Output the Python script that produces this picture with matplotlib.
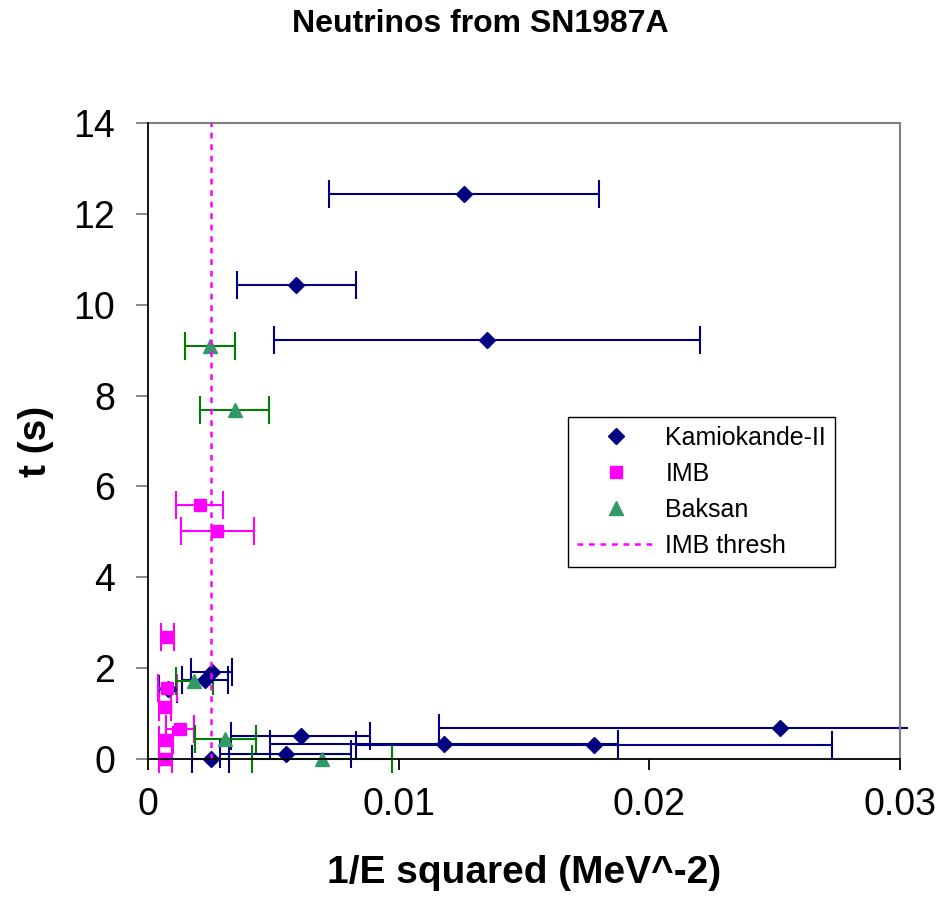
import numpy as np
import matplotlib
matplotlib.use("Agg")
import matplotlib.pyplot as plt
from matplotlib.lines import Line2D
from matplotlib.patches import Rectangle

plt.rcParams["font.family"] = ["Liberation Sans", "DejaVu Sans"]

# Kamiokande-II events: 1/E^2 (MeV^-2), error, time (s)
kam_x = [0.00250, 0.00549, 0.01778, 0.01181, 0.00610, 0.02520,
         0.00080, 0.00227, 0.00255, 0.01352, 0.00592, 0.01262]
kam_err = [0.00073, 0.00260, 0.00950, 0.00693, 0.00277, 0.01360,
           0.00036, 0.00091, 0.00082, 0.00850, 0.00237, 0.00539]
kam_t = [0.0, 0.107, 0.303, 0.324, 0.507, 0.686,
         1.541, 1.728, 1.915, 9.219, 10.433, 12.439]

# IMB events
imb_x = [0.00069, 0.00073, 0.00128, 0.00066, 0.00077, 0.00077, 0.00277, 0.00207]
imb_err = [0.00026, 0.00028, 0.00055, 0.00024, 0.00039, 0.00026, 0.00146, 0.00094]
imb_t = [0.0, 0.412, 0.650, 1.141, 1.562, 2.684, 5.010, 5.582]

# Baksan events
bak_x = [0.00694, 0.00309, 0.00184, 0.00346, 0.00248]
bak_err = [0.00278, 0.00123, 0.00074, 0.00138, 0.00099]
bak_t = [0.0, 0.435, 1.710, 7.687, 9.099]

imb_thresh = 0.0025

x_ticks = [0, 0.01, 0.02, 0.03]
x_tick_labels = ["0", "0.01", "0.02", "0.03"]
y_ticks = [0, 2, 4, 6, 8, 10, 12, 14]

fig = plt.figure(figsize=(9.45, 8.98), dpi=100)
ax = fig.add_axes([148 / 945, 1 - 759 / 898, 752 / 945, 636 / 898])

# clip a bit outside the plot area so marks on the axes are not cut in half
clip = Rectangle((-0.05, -0.05), 1.061, 1.1, transform=ax.transAxes,
                 facecolor="none", edgecolor="none")
ax.add_patch(clip)

series = [
    (kam_x, kam_t, kam_err, "D", 8.5, "#000080", "#000080", "Kamiokande-II"),
    (imb_x, imb_t, imb_err, "s", 8.5, "#FF00FF", "#FF00FF", "IMB"),
    (bak_x, bak_t, bak_err, "^", 10, "#339966", "#008000", "Baksan"),
]
handles = []
for xs, ts, errs, mk, ms, mc, ec, name in series:
    eb = ax.errorbar(xs, ts, xerr=errs, fmt=mk, color=mc, ecolor=ec,
                     markersize=ms, linestyle="none", elinewidth=1.5,
                     capsize=10, capthick=1.5)
    for art in eb.get_children():
        art.set_clip_path(clip)
    handles.append(Line2D([], [], marker=mk, color=mc, markersize=ms,
                          linestyle="none", label=name))

thr = ax.axvline(imb_thresh, color="#FF00FF", linewidth=1.8,
                 linestyle=(0, (2.3, 2.3)), zorder=3)
handles.append(Line2D([], [], color="#FF00FF", linewidth=1.8,
                      linestyle=(0, (2.3, 2.3)), label="IMB thresh"))

ax.set_xlim(0, 0.03)
ax.set_ylim(0, 14)
ax.set_xticks(x_ticks)
ax.set_xticklabels(x_tick_labels)
ax.set_yticks(y_ticks)
ax.tick_params(axis="x", labelsize=27, length=8, width=1.3, pad=12, color="black")
ax.tick_params(axis="y", labelsize=27, length=8.6, width=1.3, pad=15, color="#808080")

for s in ["left", "bottom"]:
    ax.spines[s].set_color("black")
    ax.spines[s].set_linewidth(1.3)
    ax.spines[s].set_zorder(4)
for s in ["top", "right"]:
    ax.spines[s].set_color("#808080")
    ax.spines[s].set_linewidth(1.5)

ax.set_xlabel("1/E squared (MeV^-2)", fontsize=28, fontweight="bold", labelpad=23)
ax.set_ylabel("t (s)", fontsize=28, fontweight="bold", labelpad=14)

fig.text(480 / 945, 1 - 32 / 898, "Neutrinos from SN1987A", fontsize=23,
         fontweight="bold", ha="center", va="baseline")

leg = ax.legend(handles=handles, loc="upper left",
                bbox_to_anchor=(568 / 945, 1 - 417 / 898),
                bbox_transform=fig.transFigure, borderaxespad=0, fontsize=18,
                handlelength=3.1, handletextpad=0.44, labelspacing=0.48,
                borderpad=0.36, fancybox=False, framealpha=1)
leg.get_frame().set_edgecolor("black")
leg.get_frame().set_linewidth(1.0)
leg.set_zorder(5)

fig.savefig("out.png", dpi=100)
plt.close(fig)
